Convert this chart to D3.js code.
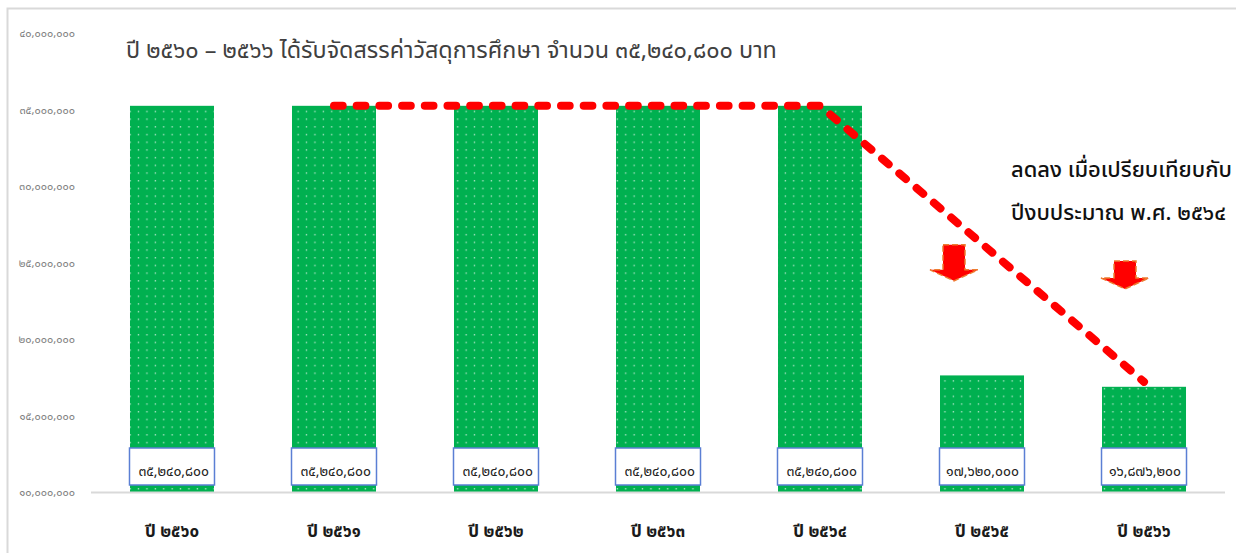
<!DOCTYPE html>
<html>
<head>
<meta charset="utf-8">
<script src="https://cdn.jsdelivr.net/npm/d3@7"></script>
<style>
  html, body { margin: 0; padding: 0; background: #fff; }
  svg { display: block; }
  text { font-family: "Noto Sans Thai", "Leelawadee UI", Tahoma, "DejaVu Sans", sans-serif; }
</style>
</head>
<body>
<svg id="chart" width="1236" height="553"></svg>
<script>
// ---------------- data ----------------
const categories = ["ปี ๒๕๖๐", "ปี ๒๕๖๑", "ปี ๒๕๖๒", "ปี ๒๕๖๓", "ปี ๒๕๖๔", "ปี ๒๕๖๕", "ปี ๒๕๖๖"];
const values = [35240800, 35240800, 35240800, 35240800, 35240800, 17620000, 16876200];
const valueLabels = ["๓๕,๒๔๐,๘๐๐", "๓๕,๒๔๐,๘๐๐", "๓๕,๒๔๐,๘๐๐", "๓๕,๒๔๐,๘๐๐", "๓๕,๒๔๐,๘๐๐", "๑๗,๖๒๐,๐๐๐", "๑๖,๘๗๖,๒๐๐"];
const tickValues = [10000000, 15000000, 20000000, 25000000, 30000000, 35000000, 40000000];
const tickLabels = ["๑๐,๐๐๐,๐๐๐", "๑๕,๐๐๐,๐๐๐", "๒๐,๐๐๐,๐๐๐", "๒๕,๐๐๐,๐๐๐", "๓๐,๐๐๐,๐๐๐", "๓๕,๐๐๐,๐๐๐", "๔๐,๐๐๐,๐๐๐"];
const trendCategories = ["ปี ๒๕๖๑", "ปี ๒๕๖๔", "ปี ๒๕๖๖"];
const trendValues = [35240800, 35240800, 17200000];
const arrowCategories = ["ปี ๒๕๖๕", "ปี ๒๕๖๖"];
const arrowTipValues = [23800000, 23270000];
const titleText = "ปี ๒๕๖๐ – ๒๕๖๖ ได้รับจัดสรรค่าวัสดุการศึกษา จำนวน ๓๕,๒๔๐,๘๐๐ บาท";
const noteLines = ["ลดลง เมื่อเปรียบเทียบกับ", "ปีงบประมาณ พ.ศ. ๒๕๖๔"];

// ---------------- layout ----------------
const svg = d3.select("#chart");
const W = 1236, H = 553;
svg.append("rect").attr("width", W).attr("height", H).attr("fill", "#fff");
svg.append("rect").attr("x", 7.5).attr("y", 8.5).attr("width", W).attr("height", H)
  .attr("fill", "none").attr("stroke", "#d9d9d9").attr("stroke-width", 2);

const x = d3.scaleBand().domain(categories).range([91, 1225]).paddingInner(0.4815).paddingOuter(0.2407);
const y = d3.scaleLinear().domain([10000000, 40000000]).range([492, 33]);

// pattern
const defs = svg.append("defs");
const pat = defs.append("pattern").attr("id", "dots").attr("patternUnits", "userSpaceOnUse")
  .attr("width", 8.4).attr("height", 7.7);
pat.append("rect").attr("width", 8.4).attr("height", 7.7).attr("fill", "#00B050");
pat.append("rect").attr("x", 3.5).attr("y", 3).attr("width", 1.3).attr("height", 1.3).attr("fill", "#ffffff").attr("opacity", 0.75);

// y axis labels
const yAxis = d3.axisLeft(y).tickValues(tickValues).tickSize(0).tickPadding(0)
  .tickFormat((d, i) => tickLabels[i]);
const gy = svg.append("g").attr("transform", "translate(75,0)").call(yAxis);
gy.select(".domain").remove();
gy.selectAll("text").attr("font-size", 11).attr("fill", "#808080").attr("dy", "0.35em")
  .style("font-family", "\"Noto Sans Thai\", Tahoma, \"DejaVu Sans\", sans-serif");

// bars
svg.append("g").selectAll("rect").data(values).join("rect")
  .attr("x", (d, i) => x(categories[i]))
  .attr("y", d => y(d))
  .attr("width", x.bandwidth())
  .attr("height", d => y(10000000) - y(d))
  .attr("fill", "url(#dots)");

// baseline
svg.append("line").attr("x1", x.range()[0]).attr("x2", x.range()[1])
  .attr("y1", y(10000000) + 0.5).attr("y2", y(10000000) + 0.5)
  .attr("stroke", "#d9d9d9").attr("stroke-width", 2);

// value label boxes
const base = y(10000000);
const lab = svg.append("g").selectAll("g").data(values).join("g");
lab.append("rect")
  .attr("x", (d, i) => x(categories[i]) - 0.5)
  .attr("y", base - 44)
  .attr("width", x.bandwidth() + 1)
  .attr("height", 37)
  .attr("fill", "#fff").attr("stroke", "#5b7fd4").attr("stroke-width", 1.5);
lab.append("text")
  .attr("x", (d, i) => x(categories[i]) + x.bandwidth() - 5)
  .attr("y", base - 16)
  .attr("text-anchor", "end").attr("font-size", 14).attr("fill", "#222")
  .text((d, i) => valueLabels[i]);

// category labels
const xAxis = d3.axisBottom(x).tickSize(0).tickPadding(0);
const gx = svg.append("g").attr("transform", "translate(0,537)").call(xAxis);
gx.select(".domain").remove();
gx.selectAll("text").attr("dy", 0).attr("font-size", 17).attr("font-weight", "bold").attr("fill", "#1a1a1a")
  .style("font-family", "\"Noto Sans Thai\", Tahoma, \"DejaVu Sans\", sans-serif");

// trend dashed line
const line = d3.line().x((d, i) => x(trendCategories[i]) + x.bandwidth() / 2).y(d => y(d));
svg.append("path").datum(trendValues).attr("d", line)
  .attr("fill", "none").attr("stroke", "#ff0000").attr("stroke-width", 8)
  .attr("stroke-dasharray", "8.7 14").attr("stroke-linecap", "round").attr("stroke-linejoin", "round");

// arrows
const arrowOffsets = [-28, -19];
arrowCategories.forEach((c, i) => {
  const cx = x(c) + x.bandwidth() / 2 + arrowOffsets[i];
  const ty = y(arrowTipValues[i]);
  const sh = i === 0 ? 25 : 17;
  const p = d3.path();
  p.moveTo(cx - 11, ty - 11 - sh);
  p.lineTo(cx + 11, ty - 11 - sh);
  p.lineTo(cx + 11, ty - 11);
  p.lineTo(cx + 24, ty - 11);
  p.lineTo(cx, ty);
  p.lineTo(cx - 24, ty - 11);
  p.lineTo(cx - 11, ty - 11);
  p.closePath();
  svg.append("path").attr("d", p.toString()).attr("fill", "#ff0000")
    .attr("stroke", "#ED7D31").attr("stroke-width", 1.5).attr("stroke-dasharray", "6 3");
});

// fit text to a target width by adjusting font size
function fitFont(sel, targetW) {
  const w = sel.node().getComputedTextLength();
  const fs = parseFloat(sel.attr("font-size"));
  if (w > 0) sel.attr("font-size", (fs * targetW / w).toFixed(2));
}

// title
const title = svg.append("text").attr("x", 126).attr("y", 58).attr("font-size", 20).attr("fill", "#404040").text(titleText);
fitFont(title, 651);

// note
const notes = svg.append("g").selectAll("text").data(noteLines).join("text")
  .attr("x", 1011).attr("y", (d, i) => 177 + i * 43)
  .attr("font-size", 20).attr("font-weight", 500).attr("fill", "#111").text(d => d);
fitFont(d3.select(notes.nodes()[0]), 221);
d3.select(notes.nodes()[1]).attr("font-size", d3.select(notes.nodes()[0]).attr("font-size"));
</script>
</body>
</html>
